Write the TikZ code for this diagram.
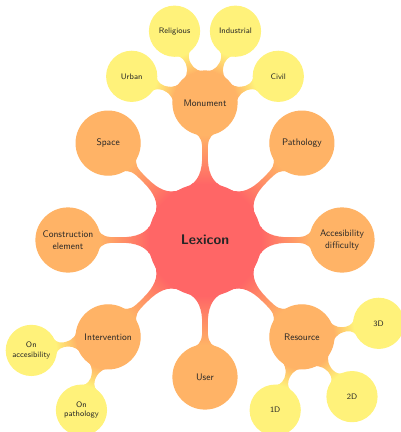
\documentclass[tikz,border=0pt]{standalone}
\usetikzlibrary{mindmap}
\definecolor{lexred}{RGB}{255,102,102}
\definecolor{lexorange}{RGB}{255,179,102}
\definecolor{lexyellow}{RGB}{255,242,122}
\begin{document}
\begin{tikzpicture}[mindmap, text=black!85,
    lexroot/.style={concept, concept color=lexred, minimum size=112pt, text width=100pt, font=\sffamily\bfseries\fontsize{14}{16}\selectfont},
    topic/.style={concept, concept color=lexorange, minimum size=64pt, text width=56pt, font=\sffamily\fontsize{9.5}{12}\selectfont},
    subtopic/.style={concept, concept color=lexyellow, minimum size=50pt, text width=44pt, font=\sffamily\footnotesize},
    redtoorange/.style={circle connection bar switch color=from (lexred) to (lexorange)},
    orangetoyellow/.style={circle connection bar switch color=from (lexorange) to (lexyellow)}]
    \useasboundingbox (-205pt,-192pt) rectangle (195pt,240pt);

    \node [lexroot] (lexicon) at (0,0) {Lexicon};
    % first ring
    \node [topic] (monument) at (90:137pt) {Monument};
    \node [topic] (pathology) at (45:137pt) {Pathology};
    \node [topic] (access) at (0:137pt) {Accesibility\\difficulty};
    \node [topic] (resource) at (-45:137pt) {Resource};
    \node [topic] (user) at (-90:137pt) {User};
    \node [topic] (intervention) at (-135:137pt) {Intervention};
    \node [topic] (construction) at (180:137pt) {Construction\\element};
    \node [topic] (space) at (135:137pt) {Space};
    % second ring
    \node [subtopic] (urban) at ([shift={(160:78pt)}]monument) {Urban};
    \node [subtopic] (religious) at ([shift={(113:78pt)}]monument) {Religious};
    \node [subtopic] (industrial) at ([shift={(67:78pt)}]monument) {Industrial};
    \node [subtopic] (civil) at ([shift={(20:78pt)}]monument) {Civil};
    \node [subtopic] (onaccess) at ([shift={(190:78pt)}]intervention) {On\\accesibility};
    \node [subtopic] (onpathology) at ([shift={(250:78pt)}]intervention) {On\\pathology};
    \node [subtopic] (threed) at ([shift={(10:78pt)}]resource) {3D};
    \node [subtopic] (twod) at ([shift={(-50:78pt)}]resource) {2D};
    \node [subtopic] (oned) at ([shift={(-110:78pt)}]resource) {1D};

    \path (lexicon) to[redtoorange] (monument);
    \path (lexicon) to[redtoorange] (pathology);
    \path (lexicon) to[redtoorange] (access);
    \path (lexicon) to[redtoorange] (resource);
    \path (lexicon) to[redtoorange] (user);
    \path (lexicon) to[redtoorange] (intervention);
    \path (lexicon) to[redtoorange] (construction);
    \path (lexicon) to[redtoorange] (space);

    \path (monument) to[orangetoyellow] (urban);
    \path (monument) to[orangetoyellow] (religious);
    \path (monument) to[orangetoyellow] (industrial);
    \path (monument) to[orangetoyellow] (civil);
    \path (intervention) to[orangetoyellow] (onaccess);
    \path (intervention) to[orangetoyellow] (onpathology);
    \path (resource) to[orangetoyellow] (threed);
    \path (resource) to[orangetoyellow] (twod);
    \path (resource) to[orangetoyellow] (oned);
\end{tikzpicture}
\end{document}
